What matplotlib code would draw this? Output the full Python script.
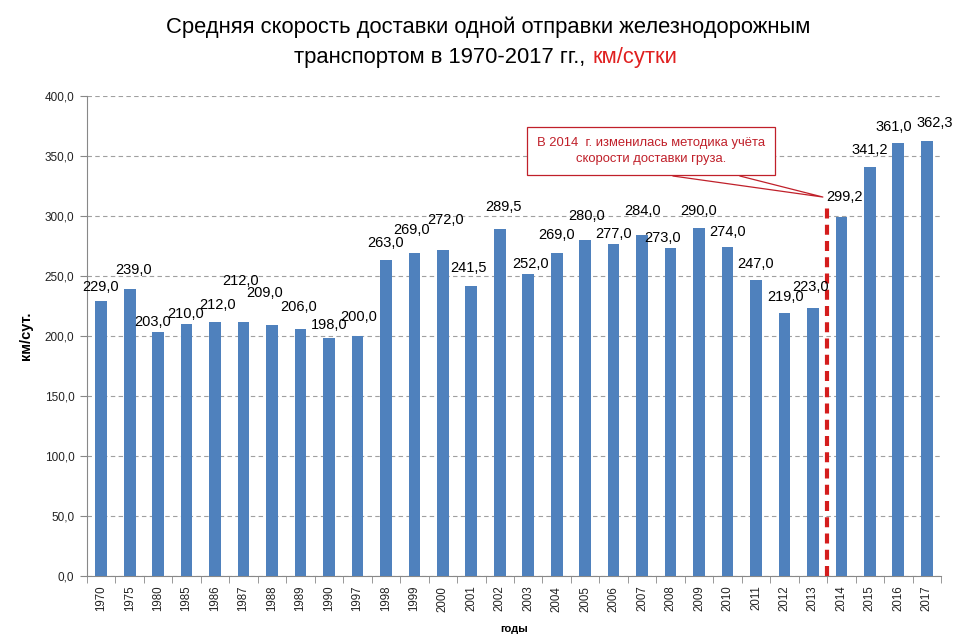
import matplotlib
matplotlib.use("Agg")
import matplotlib.pyplot as plt
import numpy as np

years = ["1970", "1975", "1980", "1985", "1986", "1987", "1988", "1989", "1990", "1997",
         "1998", "1999", "2000", "2001", "2002", "2003", "2004", "2005", "2006", "2007",
         "2008", "2009", "2010", "2011", "2012", "2013", "2014", "2015", "2016", "2017"]
speed = [229.0, 239.0, 203.0, 210.0, 212.0, 212.0, 209.0, 206.0, 198.0, 200.0,
         263.0, 269.0, 272.0, 241.5, 289.5, 252.0, 269.0, 280.0, 277.0, 284.0,
         273.0, 290.0, 274.0, 247.0, 219.0, 223.0, 299.2, 341.2, 361.0, 362.3]
yticks = [0, 50, 100, 150, 200, 250, 300, 350, 400]

# label nudges in pixels (dx, gap above bar top), like the hand-moved excel labels
lab_dx = [-1, 4, -6, -1, 2, -3, -7, -2, 0, 1, 0, -3, 3, -3, 4, 2, 0, 1, 0, 0,
          -8, 0, 0, 0, 1, -2, 3, 0, -5, 8]
lab_dy = [14, 19, 10, 10, 17, 41, 32, 22, 13, 19, 17, 23, 30, 18, 22, 10, 18, 24, 10, 24,
          10, 17, 15, 16, 16, 21, 20, 17, 16, 18]

plt.rcParams['font.family'] = ['Liberation Sans', 'DejaVu Sans']

fig = plt.figure(figsize=(9.77, 6.38), dpi=100)
ax = fig.add_axes([87/977, 62/638, (941-87)/977, 480/638])

x = np.arange(len(years))
ax.bar(x, speed, 0.41, color="#4F81BD", zorder=3)

for i, v in enumerate(speed):
    ax.annotate(f"{v:.1f}".replace(".", ","), (x[i], v), xytext=(lab_dx[i], lab_dy[i]),
                textcoords="offset pixels", ha="center", va="center", fontsize=10.5, zorder=5)

ax.set_xlim(-0.5, len(years) - 0.5)
ax.set_ylim(0, 400)
ax.set_yticks(yticks)
ax.set_yticklabels([f"{t:.1f}".replace(".", ",") for t in yticks], fontsize=8.5, color="#222222")
ax.yaxis.grid(True, linestyle=(0, (4, 3)), color="#a0a0a0", linewidth=0.8, zorder=0)

ax.set_xticks(x)
ax.set_xticklabels(years, rotation=90, fontsize=8.3, color="#222222")
ax.set_xticks(np.arange(-0.5, len(years)), minor=True)
ax.tick_params(axis="x", which="major", length=0, pad=7)
ax.tick_params(axis="x", which="minor", length=5, color="#888888")
ax.tick_params(axis="y", length=5, color="#888888", pad=4)

for s in ["top", "right"]:
    ax.spines[s].set_visible(False)
for s in ["left", "bottom"]:
    ax.spines[s].set_color("#888888")

ax.set_ylabel("км/сут.", fontsize=10.5, fontweight="bold")
ax.yaxis.set_label_coords(-0.063, 0.5)
ax.set_xlabel("годы", fontsize=8, fontweight="bold")
ax.xaxis.set_label_coords(0.5, -0.1)

# method change marker between 2013 and 2014
ax.plot([25.5, 25.5], [0, 310], color="#d41d1d", linewidth=3.0, linestyle=(0, (2.4, 1.5)), zorder=4)

# callout
ax.text(19.32, 354, "В 2014  г. изменилась методика учёта\nскорости доставки груза.",
        ha="center", va="center", color="#c0202a", fontsize=9.4, linespacing=1.5, zorder=6,
        bbox=dict(boxstyle="square,pad=0.75", facecolor="white", edgecolor="#c0202a", linewidth=0.9))
ax.plot([20.09, 25.35, 22.44], [333.3, 315.8, 333.3], color="#c0202a", linewidth=0.9, zorder=6)

# title
fig.text(0.5, 1 - 27/638, "Средняя скорость доставки одной отправки железнодорожным",
         ha="center", va="center", fontsize=15.8)
fig.text(591/977, 1 - 57/638, "транспортом в 1970-2017 гг., ", ha="right", va="center", fontsize=15.8)
fig.text(592/977, 1 - 57/638, "км/сутки", ha="left", va="center", fontsize=15.8, color="#e02020")

fig.savefig("out.png", dpi=100)
